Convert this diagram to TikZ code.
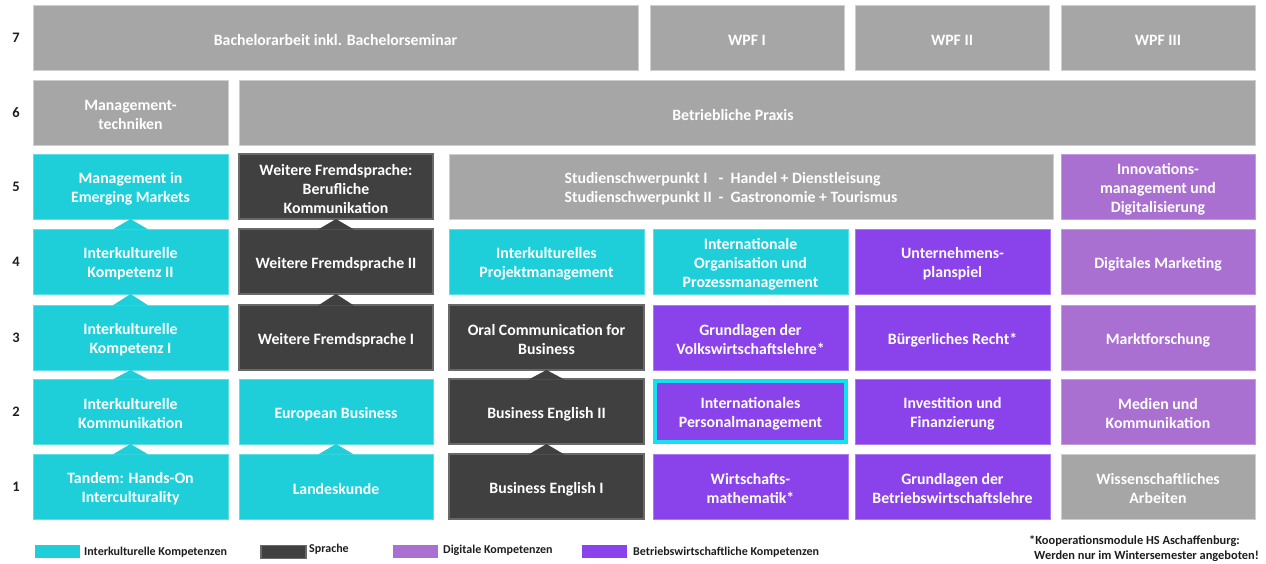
\documentclass[tikz,border=0pt]{standalone}
\usepackage{fontspec}
\setmainfont{Carlito}
\usepackage{array}
\definecolor{cyanM}{RGB}{30,207,218}
\definecolor{cyanB}{RGB}{20,225,240}
\definecolor{darkM}{RGB}{64,64,64}
\definecolor{darkB}{RGB}{105,105,105}
\definecolor{grayM}{RGB}{166,166,166}
\definecolor{purpM}{RGB}{138,66,234}
\definecolor{lilaM}{RGB}{169,112,209}
\definecolor{txtD}{RGB}{30,30,30}
\newcommand\modfont{\bfseries\fontsize{15.8}{19}\selectfont}
\newcommand\modul[7]{%
  \node[#1, minimum width={#5pt-#3pt}, minimum height={#6pt-#4pt}] (#2) at ({(#3+#5)/2},{(#4+#6)/2}) {};
  \node[modtext] (#2-t) at ([yshift=-2.5pt]#2.center) {#7};}
\newcommand\tri[3]{%
  \fill[#1] ([xshift=-18pt,yshift=-0.6pt]#2.north) -- ([xshift=18pt,yshift=-0.6pt]#2.north) -- (#3.south) -- cycle;}
\begin{document}
\begin{tikzpicture}[x=1pt,y=-1pt,
  mod/.style={inner sep=0pt, outer sep=0pt, line width=0.8pt},
  modtext/.style={inner sep=0pt, align=center, text=white, font=\modfont},
  ik/.style={mod, fill=cyanM, draw=cyanM!70!white},
  sp/.style={mod, fill=darkM, draw=darkB, line width=1.4pt},
  dk/.style={mod, fill=lilaM, draw=lilaM!70!white},
  bw/.style={mod, fill=purpM, draw=purpM!70!white},
  gr/.style={mod, fill=grayM, draw=grayM!55!white},
  rownum/.style={font=\bfseries\fontsize{14.5}{18}\selectfont, text=txtD, inner sep=0pt},
  legrect/.style={minimum width=45pt, minimum height=13pt, inner sep=0pt},
  legtext/.style={anchor=west, font=\bfseries\fontsize{12}{14}\selectfont, text=txtD, inner sep=0pt},
  fntext/.style={anchor=west, font=\bfseries\fontsize{12.4}{15}\selectfont, text=txtD, inner sep=0pt},
]
\useasboundingbox[fill=white] (0,0) rectangle (1266,564);

% row numbers
\node[rownum] (n7) at (16,37.5) {7};
\node[rownum] (n6) at (16,112.5) {6};
\node[rownum] (n5) at (16,186.5) {5};
\node[rownum] (n4) at (16,261.5) {4};
\node[rownum] (n3) at (16,337.5) {3};
\node[rownum] (n2) at (16,411.5) {2};
\node[rownum] (n1) at (16,486.5) {1};

% row 7
\modul{gr}{bach}{33}{5}{638}{70}{Bachelorarbeit inkl. Bachelorseminar}
\modul{gr}{wpf1}{650}{5}{844}{70}{WPF I}
\modul{gr}{wpf2}{855}{5}{1049}{70}{WPF II}
\modul{gr}{wpf3}{1061}{5}{1255}{70}{WPF III}
% row 6
\modul{gr}{mgt}{33}{80}{228}{145}{Management-\\techniken}
\modul{gr}{praxis}{239}{80}{1255}{145}{Betriebliche Praxis\hspace*{28pt}}
% row 5
\modul{ik}{mem}{33}{154}{228}{219}{Management in\\Emerging Markets}
\modul{sp}{bk}{239}{154}{433}{219}{Weitere Fremdsprache:\\Berufliche\\Kommunikation}
\modul{gr}{sts}{449}{154}{1053}{219}{\begin{tabular}{@{}l@{\hspace{7pt}-\hspace{7pt}}l@{\hspace{40pt}}}Studienschwerpunkt I & Handel + Dienstleisung\\[-0.5pt]Studienschwerpunkt II & Gastronomie + Tourismus\end{tabular}}
\modul{dk}{inno}{1061}{154}{1255}{219}{Innovations-\\management und\\Digitalisierung}
% row 4
\modul{ik}{ik2}{33}{229}{228}{294}{Interkulturelle\\Kompetenz II}
\modul{sp}{wf2}{239}{229}{433}{294}{Weitere Fremdsprache II}
\modul{ik}{ipm}{449}{229}{644}{294}{Interkulturelles\\Projektmanagement}
\modul{ik}{iop}{653}{229}{848}{294}{Internationale\\Organisation und\\Prozessmanagement}
\modul{bw}{upl}{855}{229}{1050}{294}{Unternehmens-\\planspiel}
\modul{dk}{dm}{1061}{229}{1255}{294}{Digitales Marketing}
% row 3
\modul{ik}{ik1}{33}{305}{228}{370}{Interkulturelle\\Kompetenz I}
\modul{sp}{wf1}{239}{305}{433}{370}{Weitere Fremdsprache I}
\modul{sp}{ocb}{449}{305}{644}{370}{Oral Communication for\\Business}
\modul{bw}{vwl}{653}{305}{848}{370}{Grundlagen der\\Volkswirtschaftslehre*}
\modul{bw}{br}{855}{305}{1050}{370}{Bürgerliches Recht*}
\modul{dk}{mf}{1061}{305}{1255}{370}{Marktforschung}
% row 2
\modul{ik}{ikk}{33}{379}{228}{444}{Interkulturelle\\Kommunikation}
\modul{ik}{eb}{239}{379}{433}{444}{European Business}
\modul{sp}{be2}{449}{379}{644}{444}{Business English II}
\modul{bw,draw=cyanB,line width=3.2pt}{ipers}{655}{381}{846}{442}{Internationales\\Personalmanagement}
\modul{bw}{inf}{855}{379}{1050}{444}{Investition und\\Finanzierung}
\modul{dk}{muk}{1061}{379}{1255}{444}{Medien und\\Kommunikation}
% row 1
\modul{ik}{tandem}{33}{454}{228}{519}{Tandem: Hands-On\\Interculturality}
\modul{ik}{lk}{239}{454}{433}{519}{Landeskunde}
\modul{sp}{be1}{449}{454}{644}{519}{Business English I}
\modul{bw}{wm}{653}{454}{848}{519}{Wirtschafts-\\mathematik*}
\modul{bw}{bwl}{855}{454}{1050}{519}{Grundlagen der\\Betriebswirtschaftslehre}
\modul{gr}{wa}{1061}{454}{1255}{519}{Wissenschaftliches\\Arbeiten}

% progression triangles
\tri{cyanM}{tandem}{ikk}
\tri{cyanM}{ikk}{ik1}
\tri{cyanM}{ik1}{ik2}
\tri{cyanM}{ik2}{mem}
\tri{cyanM}{lk}{eb}
\tri{darkM}{wf1}{wf2}
\tri{darkM}{wf2}{bk}
\tri{darkM}{be1}{be2}
\tri{darkM}{be2}{ocb}

% legend
\node[legrect, fill=cyanM] (lg1) at (57.5,551.5) {};
\node[legtext] (lt1) at (84,552.5) {Interkulturelle Kompetenzen};
\node[legrect, fill=darkM, draw=darkB, line width=1.2pt] (lg2) at (283.5,552) {};
\node[legtext] (lt2) at (309,549) {Sprache};
\node[legrect, fill=lilaM] (lg3) at (415,551.5) {};
\node[legtext] (lt3) at (443,550) {Digitale Kompetenzen};
\node[legrect, fill=purpM] (lg4) at (604.5,551.5) {};
\node[legtext] (lt4) at (633,552.5) {Betriebswirtschaftliche Kompetenzen};

% footnote
\node[fntext] (fn1) at (1029,541) {*Kooperationsmodule HS Aschaffenburg:};
\node[fntext] (fn2) at (1034,556) {Werden nur im Wintersemester angeboten!};
\end{tikzpicture}
\end{document}
